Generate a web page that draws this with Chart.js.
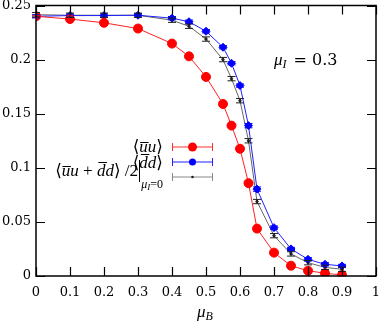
<!DOCTYPE html>
<html>
<head>
<meta charset="utf-8">
<script src="https://cdn.jsdelivr.net/npm/chart.js@4.4.1/dist/chart.umd.min.js"></script>
<style>
  html, body { margin: 0; padding: 0; background: #fff; }
  #wrap { width: 382px; height: 323px; }
</style>
</head>
<body>
<div id="wrap"><canvas id="c" width="382" height="323"></canvas></div>
<script>
// mu_B values (shared by all three series)
const muB = [0, 0.1, 0.2, 0.3, 0.4, 0.45, 0.5, 0.55, 0.575, 0.6, 0.625, 0.65, 0.7, 0.75, 0.8, 0.85, 0.9];

// <ubar u>
const uuVals = [0.240, 0.2375, 0.234, 0.2287, 0.2148, 0.203, 0.184, 0.159, 0.139, 0.1176, 0.0858, 0.0438, 0.0216, 0.0095, 0.0049, 0.0025, 0.001];
const uuErr  = [0.001, 0.001, 0.001, 0.001, 0.001, 0.001, 0.001, 0.001, 0.001, 0.001, 0.001, 0.001, 0.001, 0.001, 0.001, 0.001, 0.001];

// <dbar d>
const ddVals = [0.240, 0.2407, 0.2407, 0.241, 0.2383, 0.235, 0.2262, 0.2114, 0.1966, 0.176, 0.139, 0.0803, 0.0447, 0.025, 0.0154, 0.0108, 0.0093];
const ddErr  = [0.0015, 0.0015, 0.0015, 0.0015, 0.0015, 0.0015, 0.0015, 0.0015, 0.0015, 0.0015, 0.002, 0.002, 0.0015, 0.0015, 0.0015, 0.0015, 0.0015];

// (<ubar u> + <dbar d>)/2 at mu_I = 0
const avgVals = [0.2415, 0.241, 0.241, 0.241, 0.2364, 0.2308, 0.219, 0.200, 0.1824, 0.162, 0.125, 0.0688, 0.0373, 0.0204, 0.0123, 0.008, 0.0062];
const avgErr  = [0.002, 0.002, 0.002, 0.002, 0.002, 0.002, 0.002, 0.002, 0.002, 0.002, 0.002, 0.002, 0.002, 0.002, 0.002, 0.002, 0.002];

const xTicks = [0, 0.1, 0.2, 0.3, 0.4, 0.5, 0.6, 0.7, 0.8, 0.9, 1];
const xTickLabels = ['0', '0.1', '0.2', '0.3', '0.4', '0.5', '0.6', '0.7', '0.8', '0.9', '1'];
const yTicks = [0, 0.05, 0.1, 0.15, 0.2, 0.25];
const yTickLabels = ['0', '0.05', '0.1', '0.15', '0.2', '0.25'];

const SERIF = '"DejaVu Serif", "Liberation Serif", serif';
const TSERIF = '"Liberation Serif", "DejaVu Serif", serif';

function pts(vals) {
  return muB.map((x, i) => ({ x: x, y: vals[i] }));
}

// draws a run of [text, font, dy, gap] pieces, right aligned at xRight
function drawRun(ctx, pieces, xRight, y) {
  let w = 0;
  pieces.forEach(p => { ctx.font = p[1]; w += ctx.measureText(p[0]).width + (p[3] || 0); });
  let x = xRight - w;
  pieces.forEach(p => {
    ctx.font = p[1];
    ctx.fillText(p[0], x, y + (p[2] || 0));
    x += ctx.measureText(p[0]).width + (p[3] || 0);
  });
  return xRight - w;
}

const framePlugin = {
  id: 'frame',
  afterDatasetsDraw(chart) {
    const ctx = chart.ctx;
    const a = chart.chartArea;
    const xs = chart.scales.x, ys = chart.scales.y;

    // error bars
    chart.data.datasets.forEach(ds => {
      if (!ds.err) return;
      ctx.save();
      ctx.strokeStyle = ds.errColor;
      ctx.lineWidth = 1;
      ds.data.forEach((p, i) => {
        const px = xs.getPixelForValue(p.x);
        const y1 = ys.getPixelForValue(p.y - ds.err[i]);
        const y2 = ys.getPixelForValue(p.y + ds.err[i]);
        ctx.beginPath();
        ctx.moveTo(px, y1); ctx.lineTo(px, y2);
        ctx.moveTo(px - 4, y1); ctx.lineTo(px + 4, y1);
        ctx.moveTo(px - 4, y2); ctx.lineTo(px + 4, y2);
        ctx.stroke();
      });
      ctx.restore();
    });

    // frame and inward ticks on all four sides
    ctx.save();
    ctx.strokeStyle = '#000';
    ctx.lineWidth = 1.5;
    ctx.strokeRect(a.left, a.top, a.right - a.left, a.bottom - a.top);
    ctx.lineWidth = 1.2;
    ctx.beginPath();
    xTicks.forEach(v => {
      const px = Math.round(xs.getPixelForValue(v)) + 0.5;
      ctx.moveTo(px, a.bottom); ctx.lineTo(px, a.bottom - 9);
      ctx.moveTo(px, a.top); ctx.lineTo(px, a.top + 9);
    });
    yTicks.forEach(v => {
      const py = Math.round(ys.getPixelForValue(v)) + 0.5;
      ctx.moveTo(a.left, py); ctx.lineTo(a.left + 9, py);
      ctx.moveTo(a.right, py); ctx.lineTo(a.right - 9, py);
    });
    ctx.stroke();

    // tick labels
    ctx.fillStyle = '#000';
    ctx.font = '13px ' + SERIF;
    ctx.textBaseline = 'middle';
    ctx.textAlign = 'center';
    xTicks.forEach((v, i) => {
      ctx.fillText(xTickLabels[i], xs.getPixelForValue(v), a.bottom + 17);
    });
    ctx.textAlign = 'right';
    yTicks.forEach((v, i) => {
      ctx.fillText(yTickLabels[i], a.left - 5, ys.getPixelForValue(v));
    });
    ctx.restore();

    // legend
    const rows = [
      { y: 147, ds: chart.data.datasets[0] },
      { y: 162, ds: chart.data.datasets[1] },
      { y: 177, ds: chart.data.datasets[2] }
    ];
    ctx.save();
    rows.forEach(r => {
      ctx.strokeStyle = r.ds.legendColor;
      ctx.lineWidth = 1;
      ctx.beginPath();
      ctx.moveTo(172.5, r.y); ctx.lineTo(212.5, r.y);
      ctx.moveTo(172.5, r.y - 4); ctx.lineTo(172.5, r.y + 4);
      ctx.moveTo(212.5, r.y - 4); ctx.lineTo(212.5, r.y + 4);
      ctx.stroke();
      ctx.fillStyle = r.ds.pointBackgroundColor;
      ctx.beginPath();
      ctx.arc(192.5, r.y, r.ds.legendRadius, 0, Math.PI * 2);
      ctx.fill();
    });

    ctx.fillStyle = '#000';
    ctx.textBaseline = 'alphabetic';
    ctx.textAlign = 'left';
    const reg = '17px ' + TSERIF;
    const it = 'italic 17px ' + TSERIF;
    drawRun(ctx, [['\u27E8', reg], ['u\u0305u', it], ['\u27E9', reg]], 163, 152);
    drawRun(ctx, [['\u27E8', reg], ['d\u0305d', it], ['\u27E9', reg]], 163, 168);

    // gray label with evaluation bar
    const sub = 'italic 12px ' + TSERIF;
    const subR = '12px ' + TSERIF;
    const left = drawRun(ctx, [['\u03BC', sub, 0], ['I', 'italic 9px ' + TSERIF, 2], ['=0', subR, 0]], 163, 188);
    const barX = Math.round(left - 2);
    ctx.strokeStyle = '#000';
    ctx.lineWidth = 1;
    ctx.beginPath();
    ctx.moveTo(barX + 0.5, 160); ctx.lineTo(barX + 0.5, 182);
    ctx.stroke();
    drawRun(ctx, [['\u27E8', reg], ['u\u0305u', it], [' + ', reg], ['d\u0305d', it], ['\u27E9 /2', reg]], barX - 1, 176);

    // annotation mu_I = 0.3
    ctx.font = 'italic 17px ' + TSERIF;
    ctx.fillText('\u03BC', 274, 65);
    let x = 274 + ctx.measureText('\u03BC').width;
    ctx.font = 'italic 12px ' + TSERIF;
    ctx.fillText('I', x, 68);
    x += ctx.measureText('I').width + 2;
    ctx.font = '16px ' + SERIF;
    ctx.fillText(' = 0.3', x, 65);

    // x axis title mu_B
    ctx.font = 'italic 17px ' + TSERIF;
    ctx.fillText('\u03BC', 197, 317);
    x = 197 + ctx.measureText('\u03BC').width;
    ctx.font = 'italic 12px ' + TSERIF;
    ctx.fillText('B', x, 320);
    ctx.restore();
  }
};

new Chart(document.getElementById('c'), {
  type: 'line',
  data: {
    datasets: [
      {
        label: 'uu',
        data: pts(uuVals), err: uuErr, errColor: '#ff0000',
        borderColor: '#ff2020', borderWidth: 1,
        pointBackgroundColor: '#ff0000', pointBorderColor: '#ff0000',
        pointRadius: 4.5, pointStyle: 'circle',
        legendColor: '#ff3030', legendRadius: 4.5
      },
      {
        label: 'dd',
        data: pts(ddVals), err: ddErr, errColor: '#0000ff',
        borderColor: '#2020ff', borderWidth: 1,
        pointBackgroundColor: '#0000ff', pointBorderColor: '#0000ff',
        pointRadius: 4, pointStyle: 'rectRot',
        legendColor: '#2020ff', legendRadius: 3.5
      },
      {
        label: 'avg',
        data: pts(avgVals), err: avgErr, errColor: '#202020',
        borderColor: '#666666', borderWidth: 1,
        pointBackgroundColor: '#222222', pointBorderColor: '#222222',
        pointRadius: 1.2, pointStyle: 'circle',
        legendColor: '#888888', legendRadius: 1.3
      }
    ]
  },
  options: {
    responsive: false,
    animation: false,
    layout: { padding: { top: 5, right: 6, left: 0, bottom: 0 } },
    plugins: {
      legend: { display: false },
      tooltip: { enabled: false }
    },
    elements: { line: { tension: 0 }, point: { borderWidth: 0 } },
    scales: {
      x: {
        type: 'linear', min: 0, max: 1,
        afterFit: s => { s.height = 47; },
        grid: { display: false, drawTicks: false },
        border: { display: false },
        ticks: { display: false }
      },
      y: {
        min: 0, max: 0.25,
        afterFit: s => { s.width = 36; },
        grid: { display: false, drawTicks: false },
        border: { display: false },
        ticks: { display: false }
      }
    }
  },
  plugins: [framePlugin]
});
</script>
</body>
</html>
